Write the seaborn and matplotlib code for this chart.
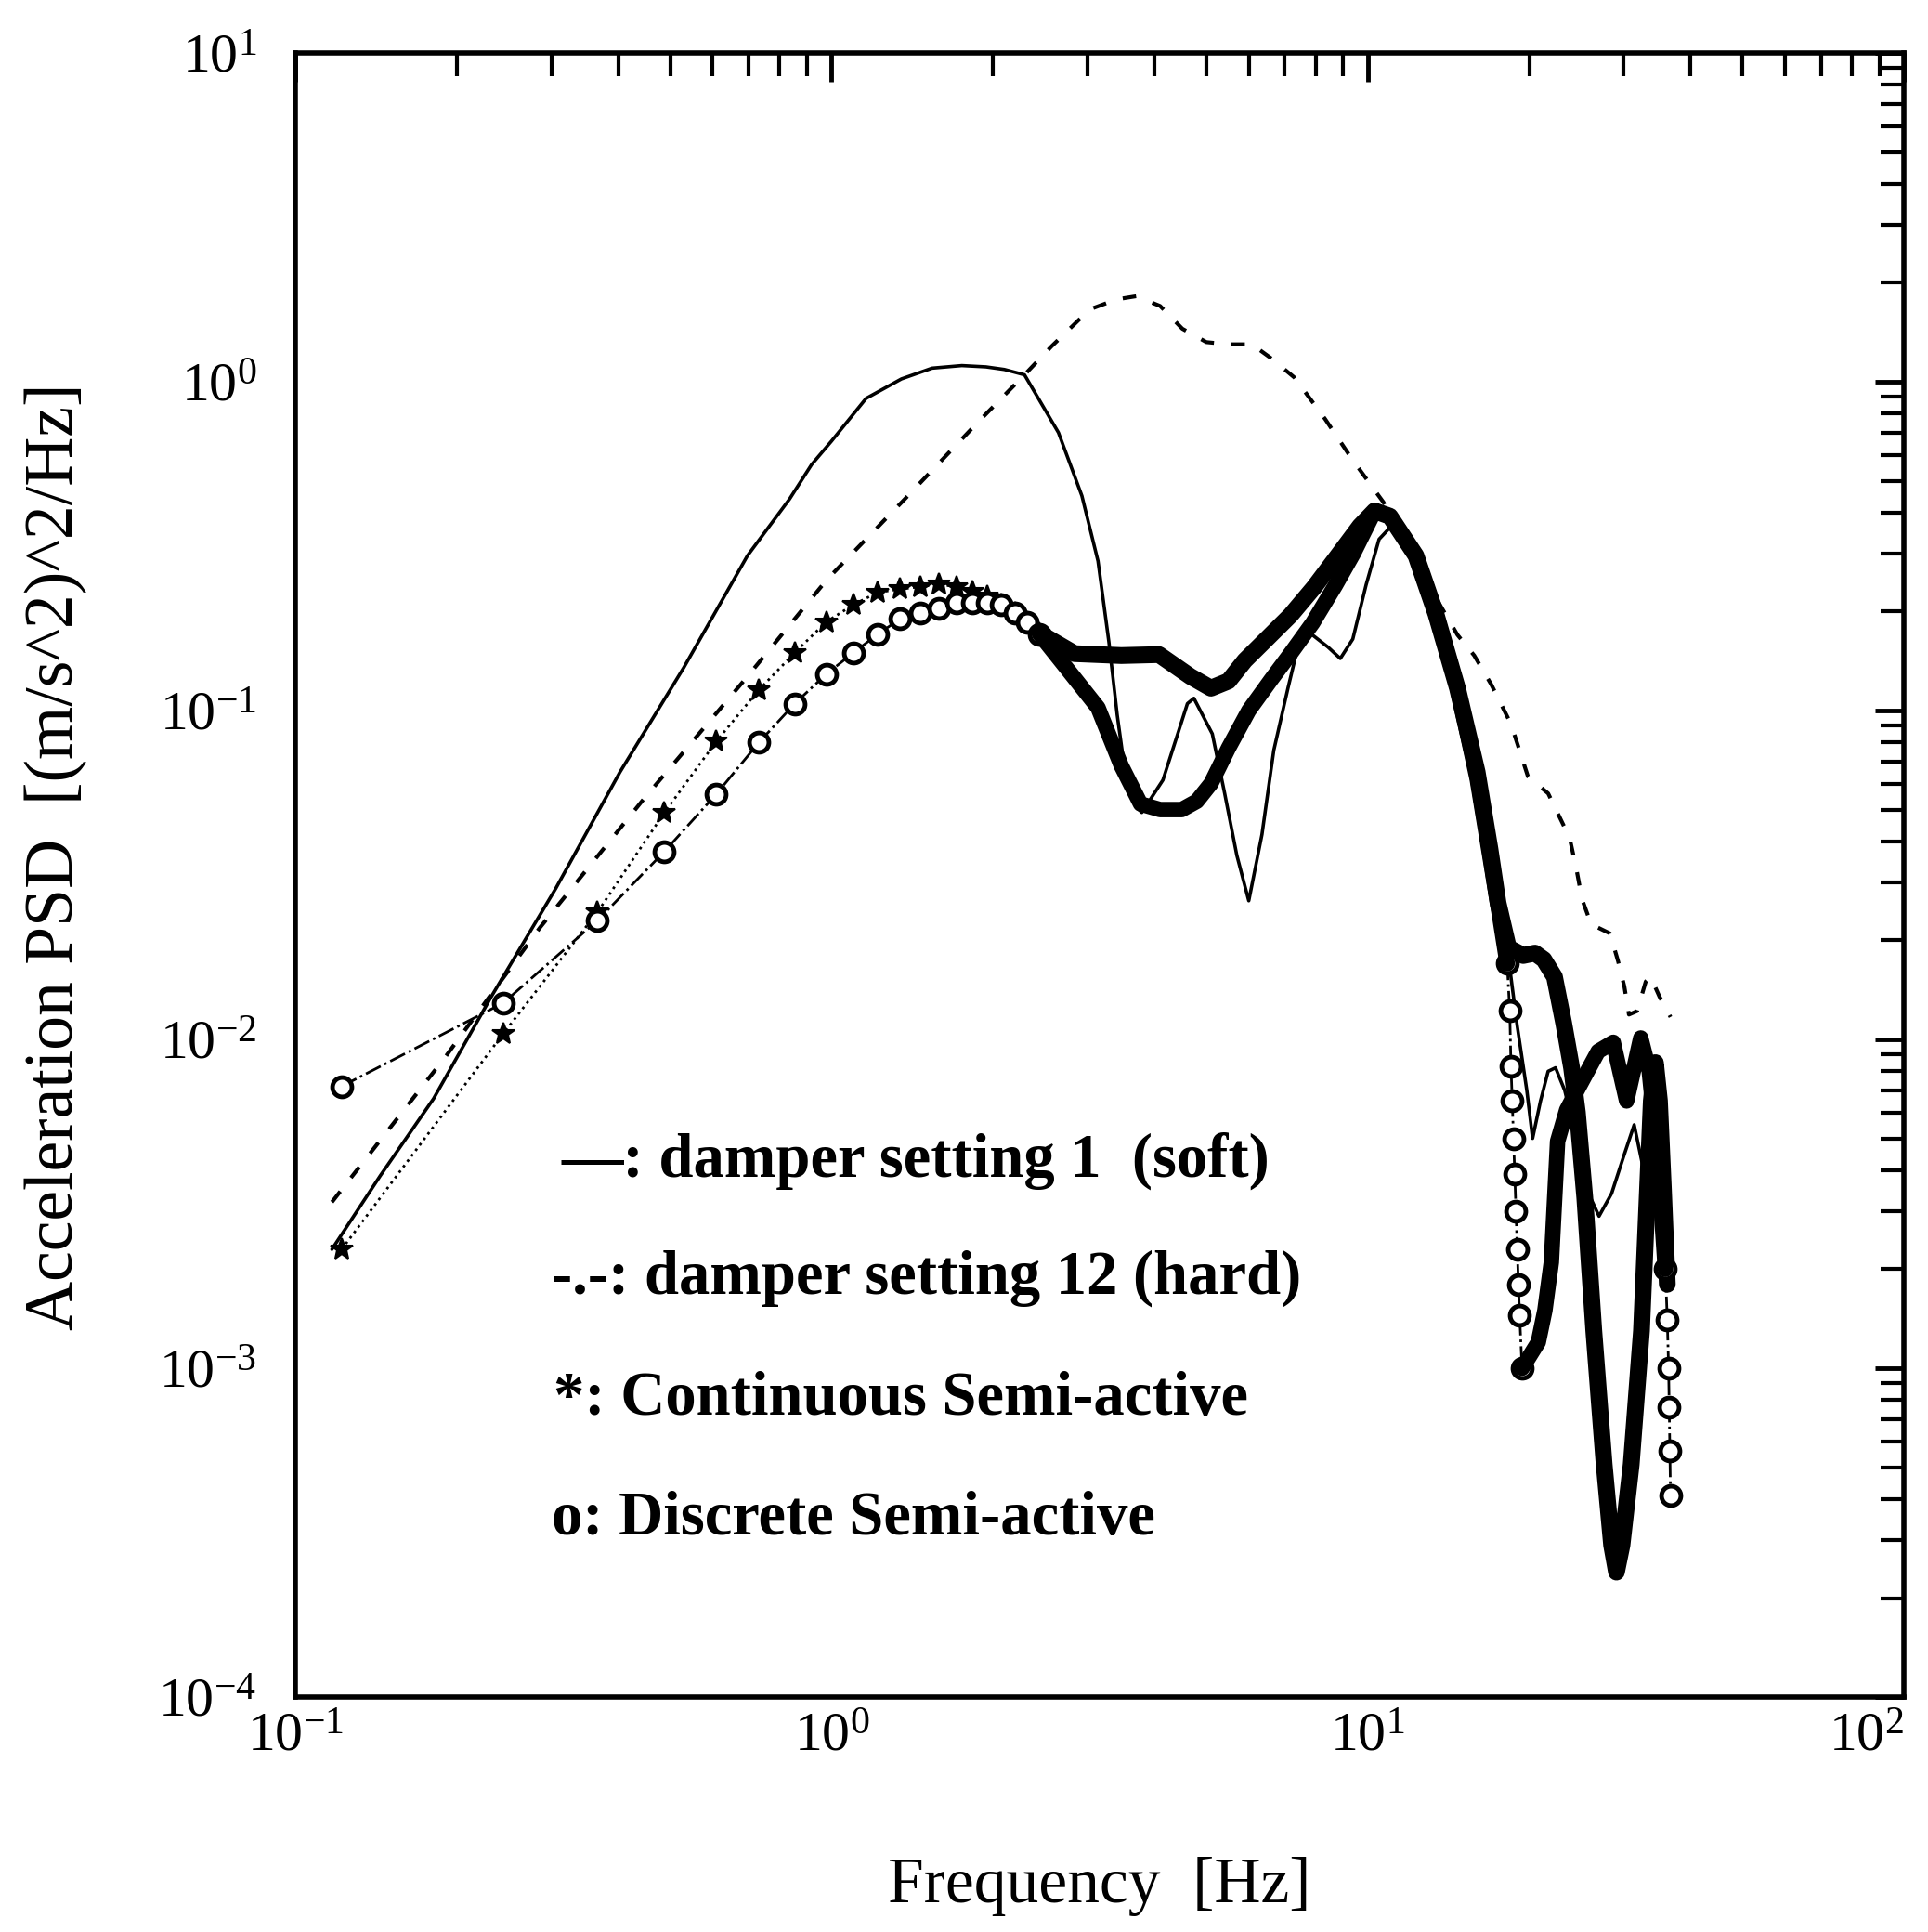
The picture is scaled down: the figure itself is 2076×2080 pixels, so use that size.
import pandas as pd
import seaborn as sns
import matplotlib.pyplot as plt

# Frequency [Hz] / acceleration PSD [(m/s^2)^2/Hz]

# damper setting 1 (soft)
soft_f = [0.117, 0.144, 0.181, 0.232, 0.306, 0.403, 0.53, 0.697, 0.835, 0.918,
          1.0, 1.16, 1.35, 1.54, 1.75, 1.94, 2.1, 2.29, 2.65, 2.93, 3.14, 3.29, 3.41,
          3.53, 3.70, 3.79, 4.15, 4.61, 4.74, 5.13, 5.41, 5.70, 6.0, 6.35, 6.68, 7.1,
          7.47, 7.88, 8.43, 8.89, 9.38, 9.93, 10.5, 11.0, 11.6, 12.3, 13.4, 14.7,
          16.0, 17.3, 18.2, 19.0, 19.8, 20.3, 21.0, 21.7, 22.4, 23.3, 24.5, 25.6,
          27.0, 28.5, 30.0, 31.4, 32.5, 33.5, 34.5, 35.5, 36.3]
soft_psd = [2.3e-3, 3.85e-3, 6.6e-3, 0.0135, 0.0288, 0.065, 0.135, 0.296, 0.44, 0.56,
            0.66, 0.89, 1.02, 1.10, 1.12, 1.11, 1.09, 1.05, 0.70, 0.45, 0.285, 0.162, 0.097,
            0.0645, 0.051, 0.049, 0.0615, 0.105, 0.109, 0.085, 0.056, 0.0363, 0.0264, 0.042, 0.0757, 0.117,
            0.165, 0.17, 0.156, 0.144, 0.165, 0.241, 0.332, 0.36, 0.35, 0.29, 0.197, 0.117,
            0.065, 0.033, 0.019, 0.011, 7.0e-3, 5.0e-3, 6.5e-3, 8.0e-3, 8.2e-3, 7.0e-3, 5.0e-3, 3.5e-3,
            2.9e-3, 3.4e-3, 4.4e-3, 5.5e-3, 4.2e-3, 3.0e-3, 4.5e-3, 3.5e-3, 1.8e-3]

# damper setting 12 (hard)
hard_f = [0.117, 0.19, 0.286, 0.447, 0.697, 0.98, 1.37, 1.87, 2.29, 2.57, 3.03, 3.4,
          3.70, 4.1, 4.51, 5.0, 5.5, 6.08, 6.6, 7.3, 8.33, 9.36, 10.7, 12.3, 14.7,
          15.8, 17.0, 18.5, 19.9, 21.7, 23.8, 24.5, 25.1, 26.1, 28.3, 29.3, 30.1,
          30.7, 31.8, 33.0, 33.7, 35.0, 36.7]
hard_psd = [3.2e-3, 8.8e-3, 0.0219, 0.054, 0.127, 0.25, 0.44, 0.75, 1.05, 1.28, 1.66, 1.78,
            1.82, 1.7, 1.45, 1.32, 1.30, 1.30, 1.18, 1.03, 0.77, 0.58, 0.43, 0.28, 0.17,
            0.147, 0.12, 0.091, 0.063, 0.056, 0.041, 0.033, 0.0267, 0.0224, 0.021, 0.0173, 0.0145,
            0.0119, 0.0122, 0.015, 0.0155, 0.0135, 0.0117]

# continuous semi-active (*)
cont_f = [0.122, 0.244, 0.366, 0.488, 0.610, 0.732, 0.854, 0.977, 1.099, 1.221,
          1.343, 1.465, 1.587, 1.709, 1.831, 1.953, 2.075, 2.197, 2.319, 2.441,
          2.84, 3.47, 4.08, 4.67, 5.1, 5.5, 5.9, 6.5, 7.18, 7.94, 8.77, 9.67, 10.3,
          11.0, 12.3, 13.4, 14.7, 16.0, 16.9, 17.5, 18.3, 19.5, 20.5, 21.3, 22.3,
          23.2, 24.0, 24.6, 25.4, 26.4, 27.6, 28.5, 29.1, 29.8, 31.0, 32.4, 33.2,
          33.8, 34.4, 35.0, 35.6, 36.2]
cont_psd = [2.3e-3, 0.0104, 0.0244, 0.049, 0.0807, 0.1156, 0.150, 0.186, 0.210, 0.229,
            0.234, 0.238, 0.242, 0.238, 0.230, 0.222, 0.210, 0.198, 0.185, 0.172,
            0.149, 0.147, 0.148, 0.127, 0.117, 0.123, 0.142, 0.166, 0.195, 0.237, 0.294, 0.364, 0.405,
            0.39, 0.296, 0.197, 0.117, 0.065, 0.038, 0.026, 0.019, 0.018, 0.0183, 0.0175, 0.0155,
            0.0112, 8.2e-3, 6.0e-3, 3.3e-3, 1.3e-3, 5.1e-4, 2.9e-4, 2.4e-4, 2.9e-4, 5.1e-4, 1.3e-3, 3.3e-3,
            6.5e-3, 8.5e-3, 6.5e-3, 3.5e-3, 1.8e-3]

# discrete semi-active (o)
disc_f = [0.122, 0.244, 0.366, 0.488, 0.610, 0.732, 0.854, 0.977, 1.099, 1.221,
          1.343, 1.465, 1.587, 1.709, 1.831, 1.953, 2.075, 2.197, 2.319, 2.441,
          2.75, 3.14, 3.47, 3.77, 4.1, 4.5, 4.8, 5.1, 5.5, 6.0, 6.6, 7.2, 7.9, 8.7,
          9.4, 10.3, 11.0, 12.3, 13.4, 14.7, 16.0, 16.9, 17.6, 18.2, 18.4, 18.5,
          18.6, 18.7, 18.8, 18.9, 19.0, 19.1, 19.2, 19.4, 20.8, 21.4, 22.0, 22.6,
          23.5, 24.8, 26.9, 28.7, 30.4, 32.3, 33.5, 34.5, 35.3, 35.9, 36.2, 36.4,
          36.5, 36.6, 36.7]
disc_psd = [7.2e-3, 0.0129, 0.023, 0.0373, 0.0558, 0.080, 0.105, 0.129, 0.150, 0.171,
            0.190, 0.198, 0.205, 0.212, 0.213, 0.212, 0.210, 0.198, 0.185, 0.171,
            0.134, 0.102, 0.068, 0.052, 0.050, 0.050, 0.053, 0.060, 0.077, 0.100, 0.124, 0.150, 0.185, 0.240,
            0.300, 0.405, 0.39, 0.296, 0.197, 0.117, 0.062, 0.036, 0.024, 0.017, 0.0122, 8.3e-3,
            6.5e-3, 5.0e-3, 3.9e-3, 3.0e-3, 2.3e-3, 1.8e-3, 1.45e-3, 1.0e-3, 1.2e-3, 1.5e-3, 2.1e-3, 4.9e-3,
            6.1e-3, 7.2e-3, 9.2e-3, 9.8e-3, 6.5e-3, 0.0101, 8.0e-3, 5.0e-3, 3.0e-3, 2.0e-3, 1.4e-3, 1.0e-3,
            7.6e-4, 5.6e-4, 4.1e-4]

legend_lines = ["\u2014: damper setting 1  (soft)",
                "-.-: damper setting 12 (hard)",
                "*: Continuous Semi-active",
                "o: Discrete Semi-active"]

soft = pd.DataFrame({"f": soft_f, "psd": soft_psd})
hard = pd.DataFrame({"f": hard_f, "psd": hard_psd})
cont = pd.DataFrame({"f": cont_f, "psd": cont_psd})
disc = pd.DataFrame({"f": disc_f, "psd": disc_psd})

sns.set_style("white")
plt.rcParams["font.family"] = ["Liberation Serif", "DejaVu Serif"]
plt.rcParams["mathtext.fontset"] = "custom"
plt.rcParams["mathtext.rm"] = "Liberation Serif"
plt.rcParams["mathtext.it"] = "Liberation Serif:italic"
plt.rcParams["mathtext.bf"] = "Liberation Serif:bold"
plt.rcParams["text.color"] = "black"
plt.rcParams["axes.labelcolor"] = "black"

fig = plt.figure(figsize=(20.76, 20.80), dpi=100)
ax = fig.add_axes([0.1532, 0.1216, 0.8343, 0.851])
ax.set(xscale="log", yscale="log")

common = dict(x="f", y="psd", ax=ax, estimator=None, sort=False,
              color="black", legend=False)

# thin curves for the passive settings
sns.lineplot(data=soft, linewidth=2.6, **common)
sns.lineplot(data=hard, linewidth=3.0, linestyle=(0, (3.5, 4.5)), **common)

# semi-active curves: separate markers at low frequency, merged band above
cont_lo = cont[cont["f"] <= 2.45]
cont_hi = cont[cont["f"] >= 2.44]
sns.lineplot(data=cont_lo, linewidth=2.0, linestyle=":", marker="*",
             markersize=18, markerfacecolor="black", markeredgecolor="black",
             markeredgewidth=1.5, **common)
sns.lineplot(data=cont_hi, linewidth=13, solid_joinstyle="round",
             solid_capstyle="round", **common)

disc_lo = disc[disc["f"] <= 2.45]
disc_mid = disc[(disc["f"] >= 2.44) & (disc["f"] <= 18.3)]
disc_col = disc[(disc["f"] >= 18.2) & (disc["f"] <= 19.4)]
disc_up = disc[(disc["f"] >= 19.4) & (disc["f"] <= 35.9)]
disc_end = disc[disc["f"] >= 35.9]
for part in (disc_lo, disc_col, disc_end):
    sns.lineplot(data=part, linewidth=2.0, linestyle="-.", marker="o",
                 markersize=15, markerfacecolor="white", markeredgecolor="black",
                 markeredgewidth=3.5, **common)
for part in (disc_mid, disc_up):
    sns.lineplot(data=part, linewidth=12, solid_joinstyle="round",
                 solid_capstyle="round", **common)

ax.set_xlim(0.1, 100)
ax.set_ylim(1e-4, 10)

for side in ["top", "bottom", "left", "right"]:
    ax.spines[side].set_linewidth(4)
    ax.spines[side].set_color("black")

ax.tick_params(which="both", direction="in", top=True, right=True,
               color="black", labelcolor="black")
ax.tick_params(which="major", length=22, width=3.5, labelsize=43)
ax.tick_params(which="minor", length=18, width=3)
ax.tick_params(axis="y", which="major", pad=30)
ax.tick_params(axis="x", which="major", pad=12)

ax.set_xlabel("Frequency  [Hz]", fontsize=50, va="center", color="black")
ax.xaxis.set_label_coords(0.5, -0.115)
ax.set_ylabel("Acceleration PSD  [(m/s^2)^2/Hz]", fontsize=53, va="center",
              color="black")
ax.yaxis.set_label_coords(-0.149, 0.511)

# hand-written key inside the axes
key_y = [1267, 1393, 1523, 1652]
key_x = [604, 594, 596, 594]
for txt, px, py in zip(legend_lines, key_x, key_y):
    fig.text(px / 2076, 1 - py / 2080, txt, fontsize=48, fontweight="bold",
             ha="left", va="baseline", color="black")

# keep the 10^2 label inside the figure edge
fig.canvas.draw()
for tick in ax.xaxis.get_major_ticks():
    if abs(tick.get_loc() - 100) < 1e-6:
        tick.label1.set_horizontalalignment("right")

plt.savefig("out.png", dpi=100, facecolor="white")
